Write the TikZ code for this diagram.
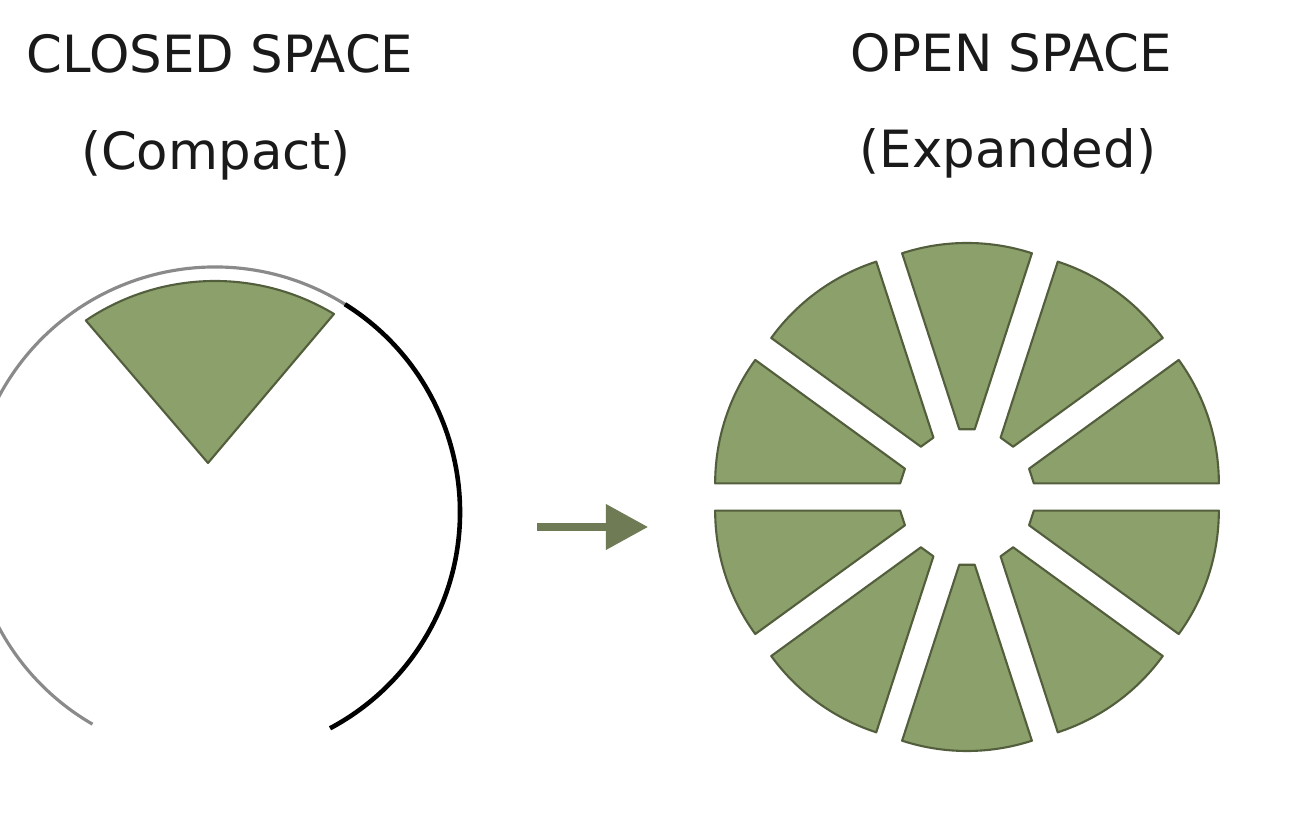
\documentclass[tikz,border=0pt]{standalone}
\usepackage{fontspec}
\setmainfont{DejaVu Sans}
\usetikzlibrary{positioning}
\usetikzlibrary{calc,arrows.meta}
\definecolor{sp-text}{HTML}{1A1A1A}
\definecolor{sp-green}{HTML}{8CA06C}
\definecolor{sp-edge}{HTML}{525E3C}
\definecolor{sp-arrow}{HTML}{6E7B55}
\definecolor{sp-grey}{HTML}{8A8A8A}

\begin{document}
\begin{tikzpicture}[
    x=0.01cm, y=0.01cm, % one unit = one pixel of the figure
    font=\fontsize{14.6}{17}\selectfont,
    >=latex
  ]

  % Global Style Definitions
  \tikzset{
    title/.style={text=sp-text, anchor=base, inner sep=0pt},
    wedge/.style={draw=sp-edge, fill=sp-green, line width=0.6pt, line join=round}
  }

  \useasboundingbox (0,0) rectangle (1309,828);

  % Headings
  \node (closedtitle) [title] at (220,755) {CLOSED SPACE};
  \node (closedsub) [title] at (216,658) {(Compact)};
  \node (opentitle) [title] at (1011,756) {OPEN SPACE};
  \node (opensub) [title] at (1008,660) {(Expanded)};

  % Closed space: open ring with a single wedge
  \coordinate (closedc) at (215,316);
  \coordinate (apex) at (208,365);
  \draw[sp-grey, line width=0.9pt] ($(closedc)+(58:245)$) arc[start angle=58, end angle=240, radius=245];
  \draw[black, line width=1.3pt] ($(closedc)+(58:245)$) arc[start angle=58, end angle=-62, radius=245];
  \draw[wedge] (apex) -- ($(closedc)+(124:231)$) arc[start angle=124, end angle=59, radius=231] -- cycle;

  % Transition arrow
  \coordinate (arrowtail) at (537,301);
  \coordinate (arrowtip) at (648,301);
  \draw[-{Triangle[length=0.42cm,width=0.44cm]}, sp-arrow, line width=2pt] (arrowtail) -- (arrowtip);

  % Open space: exploded wheel of ten wedges
  \coordinate (openc) at (967,331);
  \foreach \a in {18,54,...,342} {
    \draw[wedge] ($(openc)+(\a:44)+(\a-18:25)$) -- ($(openc)+(\a:44)+(\a-18:210)$)
      arc[start angle=\a-18, end angle=\a+18, radius=210]
      -- ($(openc)+(\a:44)+(\a+18:25)$) -- cycle;
  }

\end{tikzpicture}
\end{document}
